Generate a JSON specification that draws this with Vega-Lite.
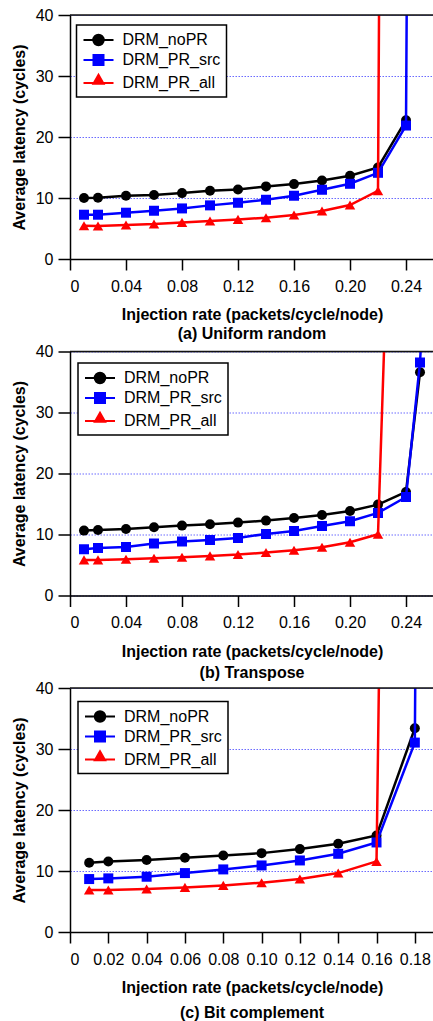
{
  "$schema": "https://vega.github.io/schema/vega-lite/v6.json",
  "padding": {"left": 10, "top": 6, "right": 0, "bottom": 0},
  "background": "white",
  "datasets": {
    "a": [
      {"s": "DRM_noPR", "x": 0.01, "y": 9.99}, {"s": "DRM_noPR", "x": 0.02, "y": 10.04}, {"s": "DRM_noPR", "x": 0.04, "y": 10.37}, {"s": "DRM_noPR", "x": 0.06, "y": 10.48}, {"s": "DRM_noPR", "x": 0.08, "y": 10.8}, {"s": "DRM_noPR", "x": 0.10, "y": 11.19}, {"s": "DRM_noPR", "x": 0.12, "y": 11.4}, {"s": "DRM_noPR", "x": 0.14, "y": 11.9}, {"s": "DRM_noPR", "x": 0.16, "y": 12.28}, {"s": "DRM_noPR", "x": 0.18, "y": 12.88}, {"s": "DRM_noPR", "x": 0.20, "y": 13.64}, {"s": "DRM_noPR", "x": 0.22, "y": 15.0}, {"s": "DRM_noPR", "x": 0.24, "y": 22.76},
      {"s": "DRM_PR_src", "x": 0.01, "y": 7.26}, {"s": "DRM_PR_src", "x": 0.02, "y": 7.26}, {"s": "DRM_PR_src", "x": 0.04, "y": 7.59}, {"s": "DRM_PR_src", "x": 0.06, "y": 7.91}, {"s": "DRM_PR_src", "x": 0.08, "y": 8.29}, {"s": "DRM_PR_src", "x": 0.10, "y": 8.79}, {"s": "DRM_PR_src", "x": 0.12, "y": 9.22}, {"s": "DRM_PR_src", "x": 0.14, "y": 9.71}, {"s": "DRM_PR_src", "x": 0.16, "y": 10.37}, {"s": "DRM_PR_src", "x": 0.18, "y": 11.35}, {"s": "DRM_PR_src", "x": 0.20, "y": 12.33}, {"s": "DRM_PR_src", "x": 0.22, "y": 14.13}, {"s": "DRM_PR_src", "x": 0.24, "y": 21.88}, {"s": "DRM_PR_src", "x": 0.25, "y": 400},
      {"s": "DRM_PR_all", "x": 0.01, "y": 5.46}, {"s": "DRM_PR_all", "x": 0.02, "y": 5.4}, {"s": "DRM_PR_all", "x": 0.04, "y": 5.57}, {"s": "DRM_PR_all", "x": 0.06, "y": 5.73}, {"s": "DRM_PR_all", "x": 0.08, "y": 6.0}, {"s": "DRM_PR_all", "x": 0.10, "y": 6.22}, {"s": "DRM_PR_all", "x": 0.12, "y": 6.49}, {"s": "DRM_PR_all", "x": 0.14, "y": 6.77}, {"s": "DRM_PR_all", "x": 0.16, "y": 7.2}, {"s": "DRM_PR_all", "x": 0.18, "y": 7.86}, {"s": "DRM_PR_all", "x": 0.20, "y": 8.84}, {"s": "DRM_PR_all", "x": 0.22, "y": 11.19}, {"s": "DRM_PR_all", "x": 0.24, "y": 800}
    ],
    "b": [
      {"s": "DRM_noPR", "x": 0.01, "y": 10.64}, {"s": "DRM_noPR", "x": 0.02, "y": 10.75}, {"s": "DRM_noPR", "x": 0.04, "y": 10.91}, {"s": "DRM_noPR", "x": 0.06, "y": 11.19}, {"s": "DRM_noPR", "x": 0.08, "y": 11.46}, {"s": "DRM_noPR", "x": 0.10, "y": 11.68}, {"s": "DRM_noPR", "x": 0.12, "y": 11.95}, {"s": "DRM_noPR", "x": 0.14, "y": 12.28}, {"s": "DRM_noPR", "x": 0.16, "y": 12.71}, {"s": "DRM_noPR", "x": 0.18, "y": 13.2}, {"s": "DRM_noPR", "x": 0.20, "y": 13.86}, {"s": "DRM_noPR", "x": 0.22, "y": 14.9}, {"s": "DRM_noPR", "x": 0.24, "y": 16.97}, {"s": "DRM_noPR", "x": 0.25, "y": 36.6},
      {"s": "DRM_PR_src", "x": 0.01, "y": 7.59}, {"s": "DRM_PR_src", "x": 0.02, "y": 7.8}, {"s": "DRM_PR_src", "x": 0.04, "y": 7.97}, {"s": "DRM_PR_src", "x": 0.06, "y": 8.51}, {"s": "DRM_PR_src", "x": 0.08, "y": 8.84}, {"s": "DRM_PR_src", "x": 0.10, "y": 9.11}, {"s": "DRM_PR_src", "x": 0.12, "y": 9.44}, {"s": "DRM_PR_src", "x": 0.14, "y": 10.1}, {"s": "DRM_PR_src", "x": 0.16, "y": 10.59}, {"s": "DRM_PR_src", "x": 0.18, "y": 11.4}, {"s": "DRM_PR_src", "x": 0.20, "y": 12.17}, {"s": "DRM_PR_src", "x": 0.22, "y": 13.53}, {"s": "DRM_PR_src", "x": 0.24, "y": 16.15}, {"s": "DRM_PR_src", "x": 0.25, "y": 38.2}, {"s": "DRM_PR_src", "x": 0.26, "y": 80},
      {"s": "DRM_PR_all", "x": 0.01, "y": 5.84}, {"s": "DRM_PR_all", "x": 0.02, "y": 5.84}, {"s": "DRM_PR_all", "x": 0.04, "y": 5.95}, {"s": "DRM_PR_all", "x": 0.06, "y": 6.11}, {"s": "DRM_PR_all", "x": 0.08, "y": 6.28}, {"s": "DRM_PR_all", "x": 0.10, "y": 6.49}, {"s": "DRM_PR_all", "x": 0.12, "y": 6.71}, {"s": "DRM_PR_all", "x": 0.14, "y": 7.04}, {"s": "DRM_PR_all", "x": 0.16, "y": 7.42}, {"s": "DRM_PR_all", "x": 0.18, "y": 7.91}, {"s": "DRM_PR_all", "x": 0.20, "y": 8.73}, {"s": "DRM_PR_all", "x": 0.22, "y": 10.04}, {"s": "DRM_PR_all", "x": 0.24, "y": 150}
    ],
    "c": [
      {"s": "DRM_noPR", "x": 0.01, "y": 11.35}, {"s": "DRM_noPR", "x": 0.02, "y": 11.57}, {"s": "DRM_noPR", "x": 0.04, "y": 11.79}, {"s": "DRM_noPR", "x": 0.06, "y": 12.17}, {"s": "DRM_noPR", "x": 0.08, "y": 12.55}, {"s": "DRM_noPR", "x": 0.10, "y": 12.93}, {"s": "DRM_noPR", "x": 0.12, "y": 13.59}, {"s": "DRM_noPR", "x": 0.14, "y": 14.46}, {"s": "DRM_noPR", "x": 0.16, "y": 15.83}, {"s": "DRM_noPR", "x": 0.18, "y": 33.4},
      {"s": "DRM_PR_src", "x": 0.01, "y": 8.68}, {"s": "DRM_PR_src", "x": 0.02, "y": 8.79}, {"s": "DRM_PR_src", "x": 0.04, "y": 9.06}, {"s": "DRM_PR_src", "x": 0.06, "y": 9.66}, {"s": "DRM_PR_src", "x": 0.08, "y": 10.26}, {"s": "DRM_PR_src", "x": 0.10, "y": 10.91}, {"s": "DRM_PR_src", "x": 0.12, "y": 11.73}, {"s": "DRM_PR_src", "x": 0.14, "y": 12.82}, {"s": "DRM_PR_src", "x": 0.16, "y": 14.68}, {"s": "DRM_PR_src", "x": 0.18, "y": 31.05}, {"s": "DRM_PR_src", "x": 0.19, "y": 500},
      {"s": "DRM_PR_all", "x": 0.01, "y": 6.88}, {"s": "DRM_PR_all", "x": 0.02, "y": 6.88}, {"s": "DRM_PR_all", "x": 0.04, "y": 7.04}, {"s": "DRM_PR_all", "x": 0.06, "y": 7.31}, {"s": "DRM_PR_all", "x": 0.08, "y": 7.64}, {"s": "DRM_PR_all", "x": 0.10, "y": 8.08}, {"s": "DRM_PR_all", "x": 0.12, "y": 8.68}, {"s": "DRM_PR_all", "x": 0.14, "y": 9.66}, {"s": "DRM_PR_all", "x": 0.16, "y": 11.57}, {"s": "DRM_PR_all", "x": 0.18, "y": 480}
    ],
    "one": [{}]
  },
  "vconcat": [
    {
      "width": 364, "height": 244,
      "data": {"name": "a"},
      "title": {"text": "(a) Uniform random", "offset": 3},
      "layer": [
        {
          "encoding": {
            "x": {"field": "x", "type": "quantitative", "scale": {"domain": [0, 0.26], "nice": false, "zero": false}, "axis": {"values": [0, 0.04, 0.08, 0.12, 0.16, 0.2, 0.24], "labelExpr": "datum.value === 0 ? '0' : format(datum.value, '.2f')", "title": "Injection rate (packets/cycle/node)"}},
            "y": {"field": "y", "type": "quantitative", "scale": {"domain": [0, 40], "nice": false}, "axis": {"values": [0, 10, 20, 30, 40], "title": "Average latency (cycles)"}},
            "color": {"field": "s", "type": "nominal", "scale": {"domain": ["DRM_noPR", "DRM_PR_src", "DRM_PR_all"], "range": ["#000000", "#0000ff", "#ff0000"]},
              "legend": {"title": null, "orient": "none", "legendX": 6.5, "legendY": 10, "padding": 6, "strokeColor": "#000000", "fillColor": "#ffffff", "labelFont": "Liberation Sans", "labelFontSize": 16, "labelColor": "#000000", "labelOffset": 15, "symbolOffset": 7, "rowPadding": 1, "symbolSize": 256,
                "encode": {
                  "legend": {"update": {"strokeWidth": {"value": 1.5}}},
                  "symbols": {"update": {
                    "shape": {"signal": "datum.value === 'DRM_noPR' ? 'M-1.875,0H1.875M-0.656,0A0.656,0.656 0 1,0 0.656,0A0.656,0.656 0 1,0 -0.656,0Z' : datum.value === 'DRM_PR_src' ? 'M-1.875,0H1.875M-0.625,-0.625H0.625V0.625H-0.625Z' : 'M-1.875,0H1.875M0,-1.03L0.64,0.094H-0.64Z'"},
                    "fill": {"signal": "datum.value === 'DRM_noPR' ? '#000000' : datum.value === 'DRM_PR_src' ? '#0000ff' : '#ff0000'"},
                    "stroke": {"signal": "datum.value === 'DRM_noPR' ? '#000000' : datum.value === 'DRM_PR_src' ? '#0000ff' : '#ff0000'"},
                    "strokeWidth": {"value": 2}, "size": {"value": 256}, "opacity": {"value": 1}, "fillOpacity": {"value": 1}, "strokeOpacity": {"value": 1}}}
                }}}
          },
          "layer": [
            {"transform": [{"filter": "datum.s === 'DRM_noPR'"}], "mark": {"type": "line", "clip": true, "strokeWidth": 2.5}},
            {"transform": [{"filter": "datum.s === 'DRM_noPR'"}], "mark": {"type": "point", "shape": "circle", "filled": true, "opacity": 1, "size": 100, "clip": true}},
            {"transform": [{"filter": "datum.s === 'DRM_PR_src'"}], "mark": {"type": "line", "clip": true, "strokeWidth": 2.5}},
            {"transform": [{"filter": "datum.s === 'DRM_PR_src'"}], "mark": {"type": "point", "shape": "square", "filled": true, "opacity": 1, "size": 100, "clip": true}},
            {"transform": [{"filter": "datum.s === 'DRM_PR_all'"}], "mark": {"type": "line", "clip": true, "strokeWidth": 2.5}},
            {"transform": [{"filter": "datum.s === 'DRM_PR_all'"}], "mark": {"type": "point", "shape": "triangle-up", "filled": true, "opacity": 1, "size": 110, "clip": true}}
          ]
        },
        {"data": {"name": "one"}, "mark": {"type": "rule", "color": "#111111", "strokeWidth": 1.5}, "encoding": {"y": {"datum": 40}}}
      ]
    },
    {
      "width": 364, "height": 244,
      "data": {"name": "b"},
      "title": {"text": "(b) Transpose", "offset": 6},
      "layer": [
        {
          "encoding": {
            "x": {"field": "x", "type": "quantitative", "scale": {"domain": [0, 0.26], "nice": false, "zero": false}, "axis": {"values": [0, 0.04, 0.08, 0.12, 0.16, 0.2, 0.24], "labelExpr": "datum.value === 0 ? '0' : format(datum.value, '.2f')", "title": "Injection rate (packets/cycle/node)"}},
            "y": {"field": "y", "type": "quantitative", "scale": {"domain": [0, 40], "nice": false}, "axis": {"values": [0, 10, 20, 30, 40], "title": "Average latency (cycles)"}},
            "color": {"field": "s", "type": "nominal", "scale": {"domain": ["DRM_noPR", "DRM_PR_src", "DRM_PR_all"], "range": ["#000000", "#0000ff", "#ff0000"]},
              "legend": {"title": null, "orient": "none", "legendX": 8, "legendY": 11.5, "padding": 6, "strokeColor": "#000000", "fillColor": "#ffffff", "labelFont": "Liberation Sans", "labelFontSize": 16, "labelColor": "#000000", "labelOffset": 15, "symbolOffset": 7, "rowPadding": 1, "symbolSize": 256,
                "encode": {
                  "legend": {"update": {"strokeWidth": {"value": 1.5}}},
                  "symbols": {"update": {
                    "shape": {"signal": "datum.value === 'DRM_noPR' ? 'M-1.875,0H1.875M-0.656,0A0.656,0.656 0 1,0 0.656,0A0.656,0.656 0 1,0 -0.656,0Z' : datum.value === 'DRM_PR_src' ? 'M-1.875,0H1.875M-0.625,-0.625H0.625V0.625H-0.625Z' : 'M-1.875,0H1.875M0,-1.03L0.64,0.094H-0.64Z'"},
                    "fill": {"signal": "datum.value === 'DRM_noPR' ? '#000000' : datum.value === 'DRM_PR_src' ? '#0000ff' : '#ff0000'"},
                    "stroke": {"signal": "datum.value === 'DRM_noPR' ? '#000000' : datum.value === 'DRM_PR_src' ? '#0000ff' : '#ff0000'"},
                    "strokeWidth": {"value": 2}, "size": {"value": 256}, "opacity": {"value": 1}, "fillOpacity": {"value": 1}, "strokeOpacity": {"value": 1}}}
                }}}
          },
          "layer": [
            {"transform": [{"filter": "datum.s === 'DRM_noPR'"}], "mark": {"type": "line", "clip": true, "strokeWidth": 2.5}},
            {"transform": [{"filter": "datum.s === 'DRM_noPR'"}], "mark": {"type": "point", "shape": "circle", "filled": true, "opacity": 1, "size": 100, "clip": true}},
            {"transform": [{"filter": "datum.s === 'DRM_PR_src'"}], "mark": {"type": "line", "clip": true, "strokeWidth": 2.5}},
            {"transform": [{"filter": "datum.s === 'DRM_PR_src'"}], "mark": {"type": "point", "shape": "square", "filled": true, "opacity": 1, "size": 100, "clip": true}},
            {"transform": [{"filter": "datum.s === 'DRM_PR_all'"}], "mark": {"type": "line", "clip": true, "strokeWidth": 2.5}},
            {"transform": [{"filter": "datum.s === 'DRM_PR_all'"}], "mark": {"type": "point", "shape": "triangle-up", "filled": true, "opacity": 1, "size": 110, "clip": true}}
          ]
        },
        {"data": {"name": "one"}, "mark": {"type": "rule", "color": "#111111", "strokeWidth": 1.5}, "encoding": {"y": {"datum": 40}}}
      ]
    },
    {
      "width": 364, "height": 244,
      "data": {"name": "c"},
      "title": {"text": "(c) Bit complement", "offset": 9},
      "layer": [
        {
          "encoding": {
            "x": {"field": "x", "type": "quantitative", "scale": {"domain": [0, 0.19], "nice": false, "zero": false}, "axis": {"values": [0, 0.02, 0.04, 0.06, 0.08, 0.1, 0.12, 0.14, 0.16, 0.18], "labelExpr": "datum.value === 0 ? '0' : format(datum.value, '.2f')", "title": "Injection rate (packets/cycle/node)"}},
            "y": {"field": "y", "type": "quantitative", "scale": {"domain": [0, 40], "nice": false}, "axis": {"values": [0, 10, 20, 30, 40], "title": "Average latency (cycles)"}},
            "color": {"field": "s", "type": "nominal", "scale": {"domain": ["DRM_noPR", "DRM_PR_src", "DRM_PR_all"], "range": ["#000000", "#0000ff", "#ff0000"]},
              "legend": {"title": null, "orient": "none", "legendX": 8, "legendY": 13.5, "padding": 6, "strokeColor": "#000000", "fillColor": "#ffffff", "labelFont": "Liberation Sans", "labelFontSize": 16, "labelColor": "#000000", "labelOffset": 15, "symbolOffset": 7, "rowPadding": 1, "symbolSize": 256,
                "encode": {
                  "legend": {"update": {"strokeWidth": {"value": 1.5}}},
                  "symbols": {"update": {
                    "shape": {"signal": "datum.value === 'DRM_noPR' ? 'M-1.875,0H1.875M-0.656,0A0.656,0.656 0 1,0 0.656,0A0.656,0.656 0 1,0 -0.656,0Z' : datum.value === 'DRM_PR_src' ? 'M-1.875,0H1.875M-0.625,-0.625H0.625V0.625H-0.625Z' : 'M-1.875,0H1.875M0,-1.03L0.64,0.094H-0.64Z'"},
                    "fill": {"signal": "datum.value === 'DRM_noPR' ? '#000000' : datum.value === 'DRM_PR_src' ? '#0000ff' : '#ff0000'"},
                    "stroke": {"signal": "datum.value === 'DRM_noPR' ? '#000000' : datum.value === 'DRM_PR_src' ? '#0000ff' : '#ff0000'"},
                    "strokeWidth": {"value": 2}, "size": {"value": 256}, "opacity": {"value": 1}, "fillOpacity": {"value": 1}, "strokeOpacity": {"value": 1}}}
                }}}
          },
          "layer": [
            {"transform": [{"filter": "datum.s === 'DRM_noPR'"}], "mark": {"type": "line", "clip": true, "strokeWidth": 2.5}},
            {"transform": [{"filter": "datum.s === 'DRM_noPR'"}], "mark": {"type": "point", "shape": "circle", "filled": true, "opacity": 1, "size": 100, "clip": true}},
            {"transform": [{"filter": "datum.s === 'DRM_PR_src'"}], "mark": {"type": "line", "clip": true, "strokeWidth": 2.5}},
            {"transform": [{"filter": "datum.s === 'DRM_PR_src'"}], "mark": {"type": "point", "shape": "square", "filled": true, "opacity": 1, "size": 100, "clip": true}},
            {"transform": [{"filter": "datum.s === 'DRM_PR_all'"}], "mark": {"type": "line", "clip": true, "strokeWidth": 2.5}},
            {"transform": [{"filter": "datum.s === 'DRM_PR_all'"}], "mark": {"type": "point", "shape": "triangle-up", "filled": true, "opacity": 1, "size": 110, "clip": true}}
          ]
        },
        {"data": {"name": "one"}, "mark": {"type": "rule", "color": "#111111", "strokeWidth": 1.5}, "encoding": {"y": {"datum": 40}}}
      ]
    }
  ],
  "spacing": 92.5,
  "bounds": "flush",
  "resolve": {"scale": {"color": "independent"}},
  "config": {
    "font": "Liberation Sans",
    "view": {"stroke": "#999999", "strokeWidth": 1},
    "title": {"orient": "bottom", "font": "Liberation Sans", "fontSize": 16, "fontWeight": "bold", "color": "#000000", "anchor": "middle"},
    "axis": {"domainColor": "#000000", "domainWidth": 1.5, "tickColor": "#000000", "tickWidth": 1.5, "labelFont": "Liberation Sans", "labelFontSize": 16, "labelColor": "#000000", "titleFont": "Liberation Sans", "titleFontSize": 16, "titleFontWeight": "bold", "titleColor": "#000000", "gridColor": "#6b6bff", "gridDash": [1.5, 1.5], "gridWidth": 1, "gridOpacity": 1},
    "axisX": {"tickSize": 11, "labelPadding": 8, "grid": false, "titlePadding": 12.5},
    "axisY": {"tickSize": 12, "labelPadding": 5, "titlePadding": 8, "grid": true}
  }
}
